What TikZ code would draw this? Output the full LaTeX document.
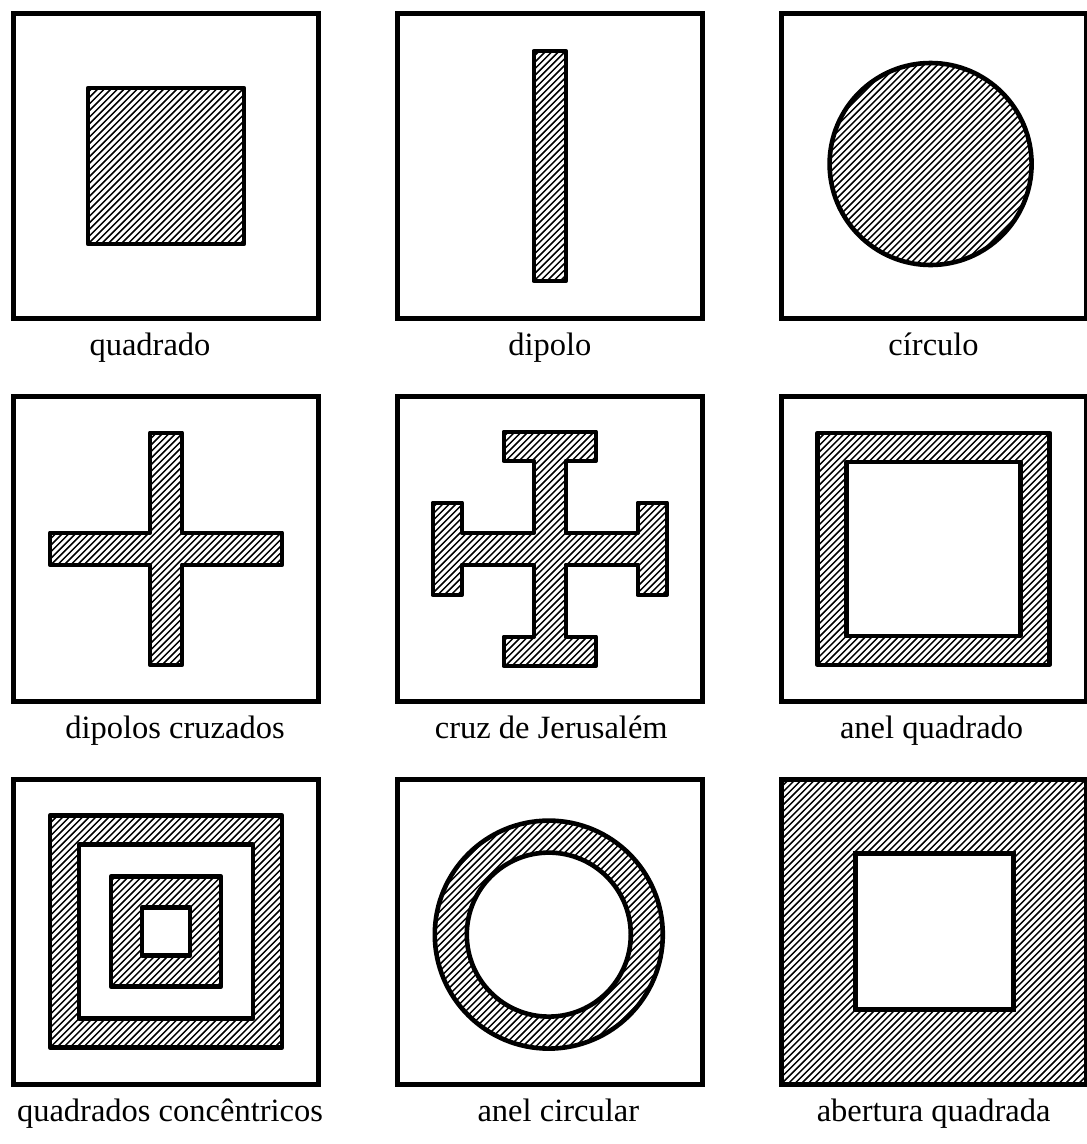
\documentclass[tikz,border=0pt]{standalone}
\usepackage{fontspec}
\setmainfont{Liberation Serif}
\usetikzlibrary{positioning}

\begin{document}
\begin{tikzpicture}[
        x=1pt, y=-1pt,
        node distance=74pt,
        cell/.style={draw, rectangle, line width=4.8pt, minimum size=305pt, inner sep=0pt},
        hatching/.style={path picture={
            \foreach \k in {-50,...,50}
                \draw[line width=1.5pt] ([xshift=\k*6.6pt]path picture bounding box.center)
                    ++(-200pt,-200pt) -- ++(400pt,400pt);
        }},
        metal/.style={draw, line width=4.6pt, line join=round, even odd rule, hatching},
        caption/.style={anchor=base, inner sep=0pt, font=\fontsize{32.5}{36}\selectfont}
    ]
        \useasboundingbox (0,0) rectangle (1087,1144);

        % frames
        \node[cell] (quad) at (166,166) {};
        \node[cell, right=of quad] (dip) {};
        \node[cell, right=of dip] (circ) {};
        \node[cell, below=73pt of quad] (cruz) {};
        \node[cell, right=of cruz] (jer) {};
        \node[cell, right=of jer] (anelq) {};
        \node[cell, below=73pt of cruz] (conc) {};
        \node[cell, right=of conc] (anelc) {};
        \node[cell, right=of anelc] (abert) {};

        % captions
        \node[caption] (t-quad) at ([xshift=-16pt, yshift=-35pt]quad.south) {quadrado};
        \node[caption] (t-dip) at ([yshift=-35pt]dip.south) {dipolo};
        \node[caption] (t-circ) at ([yshift=-35pt]circ.south) {círculo};
        \node[caption] (t-cruz) at ([xshift=9pt, yshift=-35pt]cruz.south) {dipolos cruzados};
        \node[caption] (t-jer) at ([xshift=1.5pt, yshift=-35pt]jer.south) {cruz de Jerusalém};
        \node[caption] (t-anelq) at ([xshift=-2pt, yshift=-35pt]anelq.south) {anel quadrado};
        \node[caption] (t-conc) at ([xshift=4pt, yshift=-35pt]conc.south) {quadrados concêntricos};
        \node[caption] (t-anelc) at ([xshift=8.5pt, yshift=-35pt]anelc.south) {anel circular};
        \node[caption] (t-abert) at ([yshift=-35pt]abert.south) {abertura quadrada};

        % elements
        \begin{scope}[shift={(quad.center)}]
            \draw[metal] (-78,-78) rectangle (78,78);
        \end{scope}
        \begin{scope}[shift={(dip.center)}]
            \draw[metal] (-16,-115) rectangle (16,115);
        \end{scope}
        \begin{scope}[shift={(circ.center)}]
            \draw[metal] (-3,-2) circle[radius=101];
        \end{scope}
        \begin{scope}[shift={(cruz.center)}]
            \draw[metal] (-16,-116) -- (16,-116) -- (16,-16) -- (116,-16) -- (116,16) -- (16,16)
                -- (16,116) -- (-16,116) -- (-16,16) -- (-116,16) -- (-116,-16) -- (-16,-16) -- cycle;
        \end{scope}
        \begin{scope}[shift={(jer.center)}]
            \draw[metal] (-46,-117) -- (46,-117) -- (46,-88) -- (16,-88) -- (16,-16) -- (88,-16)
                -- (88,-46) -- (117,-46) -- (117,46) -- (88,46) -- (88,16) -- (16,16)
                -- (16,88) -- (46,88) -- (46,117) -- (-46,117) -- (-46,88) -- (-16,88)
                -- (-16,16) -- (-88,16) -- (-88,46) -- (-117,46) -- (-117,-46) -- (-88,-46)
                -- (-88,-16) -- (-16,-16) -- (-16,-88) -- (-46,-88) -- cycle;
        \end{scope}
        \begin{scope}[shift={(anelq.center)}]
            \draw[metal] (-116,-116) rectangle (116,116) (-87,-87) rectangle (87,87);
        \end{scope}
        \begin{scope}[shift={(conc.center)}]
            \draw[metal] (-116,-116) rectangle (116,116) (-87,-87) rectangle (87,87);
            \draw[metal] (-55,-55) rectangle (55,55) (-24,-24) rectangle (24,24);
        \end{scope}
        \begin{scope}[shift={(anelc.center)}]
            \draw[metal] (-1,3) circle[radius=114] (-1,3) circle[radius=82];
        \end{scope}
        \begin{scope}[shift={(abert.center)}]
            \path[hatching, even odd rule] (-152,-152) rectangle (152,152) (-78,-78) rectangle (80,78);
            \draw[line width=4.6pt] (-78,-78) rectangle (80,78);
        \end{scope}
    \end{tikzpicture}
\end{document}
